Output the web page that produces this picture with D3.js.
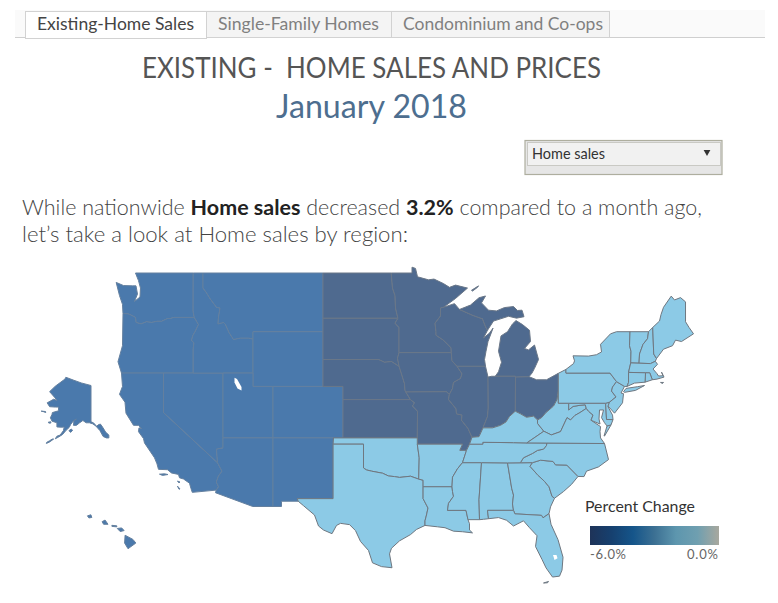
<!DOCTYPE html>
<html>
<head>
<meta charset="utf-8">
<title>Existing-Home Sales</title>
<script src="https://d3js.org/d3.v7.min.js"></script>
<style>
  html, body { margin: 0; padding: 0; background: #fff; }
  svg { display: block; }
  text { font-family: Lato, "Open Sans", sans-serif; }
</style>
</head>
<body>
<div id="chart"></div>
<script>
// tabs, text
const tabLabels = ['Existing-Home Sales', 'Single-Family Homes', 'Condominium and Co-ops'];
const legendTicks = ['-6.0%', '0.0%'];
const legendColors = ['#1e3358', '#16406f', '#15558a', '#3c7093', '#5d96ae', '#6f9fb0', '#a8a89e'];

// regions
const regionNames = ['West', 'Midwest', 'South', 'Northeast'];
const regionColors = ['#4a79ac', '#4f6a8f', '#8ccae6', '#8ccae6'];
const regionStrokes = ['#64809f', '#6a7788', '#6f7780', '#6f7780'];

const WA = [[-122.8,49],[-117.03,49],[-117.04,46.42],[-116.92,46],[-118.98,46],[-119.3,45.93],[-119.6,45.92],[-120.2,45.73],[-120.65,45.73],[-121.2,45.65],[-121.7,45.7],[-122.25,45.55],[-122.75,45.65],[-122.8,46],[-123.2,46.15],[-123.55,46.25],[-124.05,46.27],[-124.1,46.9],[-124.4,47.5],[-124.73,48.38],[-124,48.17],[-123.1,48.15],[-122.75,48.15],[-122.6,47.6],[-122.9,47.1],[-122.35,47.4],[-122.3,48],[-122.5,48.5]];
const OR = [[-124.05,46.27],[-123.55,46.25],[-123.2,46.15],[-122.8,46],[-122.75,45.65],[-122.25,45.55],[-121.7,45.7],[-121.2,45.65],[-120.65,45.73],[-120.2,45.73],[-119.6,45.92],[-119.3,45.93],[-118.98,46],[-116.92,46],[-116.5,45.5],[-116.85,45],[-117.05,44.75],[-117.2,44.4],[-116.95,44.2],[-117.03,43.8],[-117.03,42],[-124.2,42],[-124.55,42.84],[-124.1,44]];
const CA = [[-124.2,42],[-120,42],[-120,39],[-114.6,35],[-114.15,34.3],[-114.5,33.9],[-114.72,33.4],[-114.5,33],[-114.72,32.72],[-117.12,32.53],[-117.25,32.85],[-117.4,33.3],[-118,33.65],[-118.4,33.75],[-118.5,34.03],[-119.2,34.15],[-119.6,34.42],[-120.5,34.45],[-120.65,34.9],[-120.9,35.4],[-121.9,36.6],[-122,36.95],[-122.5,37.5],[-122.45,37.8],[-122.2,37.75],[-122.5,38],[-123,38],[-123.75,38.95],[-123.85,39.8],[-124.4,40.4],[-124.1,41]];
const CA2 = [[-120.4,34.05],[-119.9,34.08],[-119.55,34.02],[-120.1,33.95]];
const CA3 = [[-118.6,33.48],[-118.35,33.4],[-118.45,33.32]];
const CA4 = [[-118.6,33.05],[-118.35,32.82],[-118.45,32.8]];
const NV = [[-120,42],[-114.05,42],[-114.05,36.2],[-114.7,36.1],[-114.6,35],[-120,39]];
const ID = [[-117.03,49],[-116.05,49],[-116.05,48],[-115.72,47.7],[-115.3,47.25],[-114.7,46.7],[-114.35,46.65],[-114.5,46],[-114.55,45.55],[-114,45.65],[-113.8,45.5],[-113.45,44.95],[-113,44.45],[-112.3,44.55],[-111.5,44.55],[-111.05,44.48],[-111.05,42],[-117.03,42],[-117.03,43.8],[-116.95,44.2],[-117.2,44.4],[-117.05,44.75],[-116.85,45],[-116.5,45.5],[-116.92,46],[-117.04,46.42]];
const MT = [[-116.05,49],[-104.05,49],[-104.05,45],[-111.05,45],[-111.05,44.48],[-111.5,44.55],[-112.3,44.55],[-113,44.45],[-113.45,44.95],[-113.8,45.5],[-114,45.65],[-114.55,45.55],[-114.5,46],[-114.35,46.65],[-114.7,46.7],[-115.3,47.25],[-115.72,47.7],[-116.05,48]];
const WY = [[-111.05,45],[-104.05,45],[-104.05,41],[-111.05,41]];
const UT = [[-114.05,42],[-111.05,42],[-111.05,41],[-109.05,41],[-109.05,37],[-114.05,37]];
const CO = [[-109.05,41],[-102.05,41],[-102.05,37],[-109.05,37]];
const AZ = [[-114.05,37],[-109.05,37],[-109.05,31.33],[-111.07,31.33],[-114.8,32.5],[-114.72,32.72],[-114.5,33],[-114.72,33.4],[-114.5,33.9],[-114.15,34.3],[-114.6,35],[-114.7,36.1],[-114.05,36.2]];
const NM = [[-109.05,37],[-103,37],[-103.04,36.5],[-103.04,32],[-106.62,32],[-106.53,31.78],[-108.2,31.78],[-108.2,31.33],[-109.05,31.33]];
const AK = [[-141,69.65],[-141,60.3],[-139.5,60],[-137.5,58.9],[-136.5,59.4],[-135.2,59.6],[-133.8,58.6],[-132,57],[-130,56],[-130,55],[-131.5,55],[-133.5,55.5],[-135.5,57.5],[-136.5,58.1],[-138,59],[-140,59.7],[-142,60],[-144,60],[-146,60.7],[-148,60],[-150,59.2],[-151.8,59.2],[-151.5,60.7],[-150,61.1],[-152,60.5],[-153.5,59.5],[-154.5,58.5],[-156.5,57.5],[-158.5,56.2],[-161,55.3],[-163,54.7],[-162,55.6],[-160,56],[-158,57.5],[-157.5,58.7],[-159,58.6],[-162,58.7],[-162,60],[-165,60.5],[-166,61.5],[-165,62.5],[-164.8,63],[-161,63.5],[-161,64.5],[-163,64.5],[-166.5,64.6],[-168,65.6],[-164,66.5],[-162,66.2],[-163.5,67],[-166.5,68.3],[-163,69.5],[-157,71],[-156.5,71.35],[-152,70.8],[-147,70.2]];
const AK2 = [[-154.6,57.5],[-153.2,58],[-152.3,57.6],[-153.6,56.9]];
const AK3 = [[-167.3,60.2],[-165.7,60.3],[-165.8,59.9],[-167,59.9]];
const AK4 = [[-171.7,63.4],[-169,63.3],[-168.9,63],[-170.5,63.3]];
const AK5 = [[-164.9,54.6],[-164,54.6],[-166.6,53.5],[-168.5,53],[-168.3,53.4],[-166.5,54]];
const HI1 = [[-155.9,20.25],[-155.1,19.85],[-154.8,19.5],[-155.6,18.95],[-155.95,19.5]];
const HI2 = [[-156.7,20.9],[-156.25,20.95],[-156,20.7],[-156.4,20.6]];
const HI3 = [[-158.25,21.55],[-157.95,21.7],[-157.65,21.3],[-158.1,21.3]];
const HI4 = [[-159.75,22.1],[-159.4,22.2],[-159.3,21.95],[-159.6,21.9]];
const HI5 = [[-157.25,21.2],[-156.75,21.15],[-156.75,21.05],[-157.25,21.1]];

const ND = [[-104.05,49],[-97.23,49],[-97.1,48],[-96.85,47.5],[-96.8,46.65],[-96.56,45.94],[-104.05,45.94]];
const SD = [[-104.05,45.94],[-96.56,45.94],[-96.85,45.6],[-96.45,45.3],[-96.45,43.5],[-96.6,43.1],[-96.44,42.49],[-97.2,42.85],[-97.9,42.8],[-98.5,43],[-104.05,43]];
const NE = [[-104.05,43],[-98.5,43],[-97.9,42.8],[-97.2,42.85],[-96.44,42.49],[-96.1,41.7],[-95.9,41.2],[-95.85,40.7],[-95.77,40.58],[-95.31,40],[-102.05,40],[-102.05,41],[-104.05,41]];
const KS = [[-102.05,40],[-95.31,40],[-94.9,39.75],[-95.1,39.5],[-94.6,39.1],[-94.62,37],[-102.05,37]];
const MN = [[-97.23,49],[-95.15,49],[-95.15,49.38],[-94.8,49.3],[-94.6,48.75],[-93.5,48.55],[-92.95,48.6],[-92,48.3],[-91.4,48.05],[-90.8,48.2],[-89.6,48],[-90.8,47.3],[-92,46.7],[-92.3,46.65],[-92.3,46.1],[-92.85,45.6],[-92.75,45],[-92.75,44.75],[-92,44.4],[-91.25,43.85],[-91.22,43.5],[-96.45,43.5],[-96.45,45.3],[-96.85,45.6],[-96.56,45.94],[-96.8,46.65],[-96.85,47.5],[-97.1,48]];
const IA = [[-96.45,43.5],[-91.22,43.5],[-91.15,42.9],[-90.65,42.5],[-90.15,41.95],[-90.3,41.6],[-91,41.3],[-91.1,40.85],[-91.42,40.38],[-91.7,40.6],[-95.77,40.58],[-95.85,40.7],[-95.9,41.2],[-96.1,41.7],[-96.44,42.49],[-96.6,43.1]];
const MO = [[-95.77,40.58],[-91.7,40.6],[-91.42,40.38],[-91.5,40],[-90.75,39.3],[-90.7,38.9],[-90.15,38.8],[-90.2,38.4],[-89.55,37.75],[-89.15,37.05],[-89.4,36.5],[-89.7,36],[-90.37,36],[-90.1,36.5],[-94.62,36.5],[-94.62,37],[-94.6,39.1],[-95.1,39.5],[-94.9,39.75],[-95.31,40]];
const WI = [[-92.3,46.65],[-92,46.7],[-90.9,46.95],[-90.4,46.55],[-89.1,46.15],[-88.1,45.9],[-87.8,45.35],[-87.6,45.1],[-88,44.55],[-87.4,44.9],[-87.05,45.25],[-87.55,44.3],[-87.75,43.6],[-87.9,43],[-87.8,42.5],[-90.65,42.5],[-91.15,42.9],[-91.22,43.5],[-91.25,43.85],[-92,44.4],[-92.75,44.75],[-92.75,45],[-92.85,45.6],[-92.3,46.1]];
const MI1 = [[-90.4,46.55],[-89.3,46.85],[-88.45,47.35],[-87.8,47.47],[-88.2,47],[-87.5,46.5],[-86.7,46.45],[-85.9,46.68],[-85,46.75],[-84.6,46.48],[-84.15,46.5],[-83.95,46.05],[-84.7,45.95],[-85.5,46.08],[-86.3,45.9],[-87,45.75],[-87.6,45.1],[-87.8,45.35],[-88.1,45.9],[-89.1,46.15]];
const MI2 = [[-86.82,41.76],[-86.5,42.1],[-86.2,42.8],[-86.5,43.6],[-86.25,44.7],[-85.6,45],[-85.1,45.55],[-84.75,45.78],[-84.1,45.5],[-83.4,45.1],[-83.3,44.3],[-83.9,43.8],[-83.5,43.7],[-82.9,44.05],[-82.5,43],[-82.9,42.35],[-83.15,42],[-83.45,41.73],[-84.8,41.7],[-84.8,41.76]];
const MI3 = [[-89.2,47.85],[-88.5,48.15],[-88.6,48.05],[-89.1,47.8]];
const IL = [[-90.65,42.5],[-87.8,42.5],[-87.55,41.7],[-87.53,39.35],[-87.6,38.7],[-88.05,37.8],[-88.45,37.1],[-89.15,37.05],[-89.55,37.75],[-90.2,38.4],[-90.15,38.8],[-90.7,38.9],[-90.75,39.3],[-91.5,40],[-91.42,40.38],[-91.1,40.85],[-91,41.3],[-90.3,41.6],[-90.15,41.95]];
const IN = [[-87.55,41.7],[-87.2,41.76],[-86.82,41.76],[-84.8,41.76],[-84.82,39.1],[-84.9,39.05],[-85.4,38.7],[-85.75,38.27],[-86.3,38],[-87.1,37.8],[-88.05,37.8],[-87.6,38.7],[-87.53,39.35]];
const OH = [[-84.8,41.7],[-83.45,41.73],[-82.7,41.5],[-81.7,41.5],[-80.52,41.98],[-80.52,40.64],[-80.65,40],[-81,39.5],[-81.75,39],[-82.2,38.6],[-82.6,38.42],[-83,38.72],[-83.7,38.63],[-84.3,38.9],[-84.82,39.1]];

const OK = [[-103,37],[-94.62,37],[-94.62,36.5],[-94.43,35.4],[-94.48,33.64],[-95.3,33.88],[-96.4,33.78],[-96.9,33.85],[-97.5,33.9],[-98.1,34.13],[-99.2,34.3],[-99.7,34.4],[-100,34.56],[-100,36.5],[-103.04,36.5]];
const TX = [[-103.04,36.5],[-100,36.5],[-100,34.56],[-99.7,34.4],[-99.2,34.3],[-98.1,34.13],[-97.5,33.9],[-96.9,33.85],[-96.4,33.78],[-95.3,33.88],[-94.48,33.64],[-94.04,33.55],[-94.04,33],[-94.04,32],[-93.55,31.2],[-93.7,30.6],[-93.85,30.1],[-93.85,29.7],[-94.7,29.35],[-95.3,28.9],[-96.4,28.35],[-97.2,27.7],[-97.4,27.2],[-97.15,25.96],[-98.2,26.06],[-99.1,26.4],[-99.5,27.5],[-100.3,28.3],[-100.8,29.25],[-101.4,29.77],[-102.3,29.88],[-102.7,29.7],[-103.15,28.98],[-104,29.3],[-104.5,29.65],[-104.9,30.6],[-106,31.4],[-106.53,31.78],[-106.62,32],[-103.04,32]];
const AR = [[-94.62,36.5],[-90.1,36.5],[-90.37,36],[-89.7,36],[-90.1,35],[-90.6,34.5],[-91.1,33.8],[-91.15,33],[-94.04,33],[-94.04,33.55],[-94.48,33.64],[-94.43,35.4]];
const LA = [[-94.04,33],[-91.15,33],[-91.1,32.6],[-91,32.2],[-91.5,31.6],[-91.6,31],[-89.75,31],[-89.55,30.2],[-89.4,29.85],[-89.4,29.3],[-89.1,29.05],[-90.1,29.15],[-91,29.2],[-91.85,29.5],[-92.6,29.58],[-93.85,29.7],[-93.85,30.1],[-93.7,30.6],[-93.55,31.2],[-94.04,32]];
const MS = [[-90.1,35],[-88.2,35],[-88.45,31.9],[-88.4,30.2],[-89.55,30.2],[-89.75,31],[-91.6,31],[-91.5,31.6],[-91,32.2],[-91.1,32.6],[-91.15,33],[-91.1,33.8],[-90.6,34.5]];
const AL = [[-88.2,35],[-85.6,34.98],[-85.18,32.87],[-85,32.3],[-85.1,31.55],[-85,31],[-87.6,31],[-87.5,30.28],[-88,30.23],[-88.4,30.2],[-88.45,31.9]];
const GA = [[-85.6,34.98],[-84.32,34.99],[-83.1,35],[-83.35,34.7],[-82.6,34],[-81.9,33.45],[-81.45,33],[-81.15,32.2],[-80.9,32.03],[-81.3,31.3],[-81.45,30.72],[-82.05,30.36],[-82.2,30.57],[-84.86,30.7],[-85,31],[-85.1,31.55],[-85,32.3],[-85.18,32.87]];
const FL = [[-87.6,31],[-85,31],[-84.86,30.7],[-82.2,30.57],[-82.05,30.36],[-81.45,30.72],[-81.25,29.8],[-80.55,28.45],[-80.05,26.9],[-80.15,25.75],[-80.4,25.2],[-81.1,25.12],[-81.75,25.95],[-82.15,26.7],[-82.8,27.85],[-82.65,28.8],[-83.4,29.5],[-84,30.1],[-85,29.65],[-85.7,30.15],[-86.5,30.38],[-87.5,30.28]];
const FL2 = [[-82,24.58],[-81.5,24.72],[-81.6,24.6]];
const SC = [[-83.1,35],[-82.3,35.2],[-81.05,35.1],[-80.8,34.82],[-79.67,34.8],[-78.55,33.86],[-79.2,33.2],[-80,32.6],[-80.9,32.03],[-81.15,32.2],[-81.45,33],[-81.9,33.45],[-82.6,34],[-83.35,34.7]];
const NC = [[-84.32,34.99],[-84,35.4],[-83.1,35.75],[-82.6,36],[-82,36.1],[-81.7,36.4],[-81.68,36.59],[-75.9,36.55],[-75.5,35.25],[-76.5,34.65],[-77.7,34.3],[-77.95,33.85],[-78.55,33.86],[-79.67,34.8],[-80.8,34.82],[-81.05,35.1],[-82.3,35.2],[-83.1,35]];
const TN = [[-90.1,35],[-89.7,36],[-89.4,36.5],[-88.07,36.5],[-88.07,36.65],[-85,36.62],[-83.67,36.6],[-81.68,36.59],[-81.7,36.4],[-82,36.1],[-82.6,36],[-83.1,35.75],[-84,35.4],[-84.32,34.99],[-85.6,34.98],[-88.2,35]];
const KY = [[-89.4,36.5],[-89.15,37.05],[-88.45,37.1],[-88.05,37.8],[-87.1,37.8],[-86.3,38],[-85.75,38.27],[-85.4,38.7],[-84.9,39.05],[-84.82,39.1],[-84.3,38.9],[-83.7,38.63],[-83,38.72],[-82.6,38.42],[-82.6,38.15],[-81.97,37.53],[-83.67,36.6],[-85,36.62],[-88.07,36.65],[-88.07,36.5]];
const WV = [[-80.52,40.64],[-80.52,39.72],[-79.48,39.72],[-79.48,39.2],[-79.05,39.47],[-78.45,39.55],[-77.83,39.6],[-77.72,39.32],[-78.35,39],[-78.87,38.77],[-79.3,38.42],[-79.65,38.6],[-80.3,37.5],[-81.22,37.24],[-81.97,37.53],[-82.6,38.15],[-82.6,38.42],[-82.2,38.6],[-81.75,39],[-81,39.5],[-80.65,40]];
const VA = [[-83.67,36.6],[-81.97,37.53],[-81.22,37.24],[-80.3,37.5],[-79.65,38.6],[-79.3,38.42],[-78.87,38.77],[-78.35,39],[-77.72,39.32],[-77.5,39.1],[-77.05,38.8],[-77.25,38.4],[-76.3,37.9],[-76.35,37.5],[-76.3,37],[-75.9,36.55],[-81.68,36.59]];
const VA2 = [[-75.95,37.15],[-75.65,37.95],[-75.25,38.03],[-75.9,37.15]];
const MD = [[-79.48,39.72],[-75.79,39.72],[-75.7,38.46],[-75.05,38.45],[-75.25,38.03],[-75.65,37.95],[-75.9,38.2],[-76.2,38.6],[-76,39.2],[-76.4,39.2],[-76.45,38.5],[-76.35,38.1],[-77.25,38.4],[-77.05,38.8],[-77.5,39.1],[-77.72,39.32],[-77.83,39.6],[-78.45,39.55],[-79.05,39.47],[-79.48,39.2]];
const DE = [[-75.79,39.72],[-75.4,39.8],[-75.55,39.45],[-75.1,38.8],[-75.05,38.45],[-75.7,38.46]];

const PA = [[-80.52,41.98],[-79.76,42.27],[-79.76,42],[-75.35,42],[-74.7,41.36],[-75.1,40.95],[-75.2,40.65],[-74.75,40.2],[-75.4,39.8],[-75.79,39.72],[-80.52,39.72]];
const NJ = [[-74.7,41.36],[-73.9,41],[-74.25,40.5],[-74,40.45],[-74.1,39.75],[-74.9,38.95],[-75.55,39.5],[-75.4,39.8],[-74.75,40.2],[-75.2,40.65],[-75.1,40.95]];
const NY = [[-79.76,42.27],[-79,42.7],[-78.9,42.9],[-79.05,43.27],[-77.5,43.25],[-76.7,43.35],[-76.2,43.55],[-76.3,44.1],[-75.3,44.85],[-74.7,45],[-73.35,45],[-73.4,44],[-73.25,43.6],[-73.28,42.75],[-73.5,42.05],[-73.5,41.3],[-73.65,41],[-73.9,41],[-74.7,41.36],[-75.35,42],[-79.76,42]];
const NY2 = [[-74,40.6],[-73.75,40.85],[-72.6,40.98],[-71.9,41.07],[-72.8,40.7],[-73.9,40.55]];
const VT = [[-73.35,45],[-71.5,45],[-71.6,44.5],[-72.05,44.1],[-72.4,43.4],[-72.45,42.73],[-73.28,42.75],[-73.25,43.6],[-73.4,44]];
const NH = [[-71.5,45],[-71.08,45.3],[-70.98,43.4],[-70.7,43.07],[-70.82,42.87],[-71.3,42.7],[-72.45,42.73],[-72.4,43.4],[-72.05,44.1],[-71.6,44.5]];
const ME = [[-71.08,45.3],[-70.4,45.75],[-70.25,46.2],[-70,46.7],[-69.23,47.46],[-68.9,47.2],[-68.3,47.36],[-67.8,47.07],[-67.8,45.7],[-67.45,45.3],[-67,44.85],[-68.2,44.3],[-68.8,44.4],[-69.1,44],[-70,43.75],[-70.7,43.07],[-70.98,43.4]];
const MA = [[-73.5,42.05],[-73.28,42.75],[-72.45,42.73],[-71.3,42.7],[-70.82,42.87],[-70.6,42.65],[-71.05,42.3],[-70.65,41.95],[-70.5,41.78],[-70.05,41.8],[-70.2,42.07],[-69.95,41.7],[-70.65,41.55],[-71.12,41.5],[-71.38,42.02],[-71.8,42.02]];
const MA2 = [[-70.3,41.3],[-70,41.3],[-70.1,41.22]];
const RI = [[-71.8,42.02],[-71.38,42.02],[-71.12,41.5],[-71.85,41.32]];
const CT = [[-73.5,42.05],[-71.8,42.02],[-71.85,41.32],[-72.9,41.25],[-73.65,41],[-73.5,41.3]];

const lakes = [
  [[-112.9,41.65],[-112.65,41.55],[-112.2,40.95],[-112.2,40.7],[-112.6,40.85],[-112.9,41.3]],
  [[-81.05,27.1],[-80.7,27.1],[-80.6,26.8],[-80.9,26.65]]
];

const westStates = [WA, OR, CA, CA2, CA3, CA4, NV, ID, MT, WY, UT, CO, AZ, NM];
const alaskaShapes = [AK, AK2, AK3, AK4, AK5];
const hawaiiShapes = [HI1, HI2, HI3, HI4, HI5];
const midwestStates = [ND, SD, NE, KS, MN, IA, MO, WI, MI1, MI2, MI3, IL, IN, OH];
const southStates = [OK, TX, AR, LA, MS, AL, GA, FL, FL2, SC, NC, TN, KY, WV, VA, VA2, MD, DE];
const northeastStates = [PA, NJ, NY, NY2, VT, NH, ME, MA, MA2, RI, CT];

const width = 778, height = 603;
const svg = d3.select('#chart').append('svg').attr('width', width).attr('height', height);

// tab strip
svg.append('rect').attr('x', 15).attr('y', 10).attr('width', 750).attr('height', 27).attr('fill', '#fafafa');
svg.append('line').attr('x1', 15).attr('x2', 765).attr('y1', 37.5).attr('y2', 37.5).attr('stroke', '#cfcfcf');
const tabEdges = [25, 206, 391, 609];
tabLabels.forEach((label, i) => {
  svg.append('rect')
    .attr('x', tabEdges[i] + 0.5).attr('y', 11.5)
    .attr('width', tabEdges[i + 1] - tabEdges[i]).attr('height', i === 0 ? 27 : 26)
    .attr('fill', i === 0 ? '#fff' : '#f4f4f4')
    .attr('stroke', '#d2d2d2');
  svg.append('text')
    .attr('x', tabEdges[i] + 12).attr('y', 30)
    .attr('font-size', 17)
    .attr('textLength', [157, 161, 200][i])
    .attr('lengthAdjust', 'spacingAndGlyphs')
    .attr('fill', i === 0 ? '#444' : '#808080')
    .text(label);
});

// title
svg.append('text').attr('x', 142).attr('y', 78)
  .attr('font-size', 29).attr('fill', '#555')
  .attr('textLength', 459).attr('lengthAdjust', 'spacingAndGlyphs')
  .style('white-space', 'pre')
  .text('EXISTING -  HOME SALES AND PRICES');
svg.append('text').attr('x', 276).attr('y', 118)
  .attr('font-size', 32).attr('fill', '#4d6e8f')
  .attr('textLength', 191).attr('lengthAdjust', 'spacingAndGlyphs')
  .text('January 2018');

// parameter dropdown
svg.append('rect').attr('x', 525).attr('y', 140.5).attr('width', 197).attr('height', 34)
  .attr('fill', '#e6e6e6').attr('stroke', '#aeae9f').attr('stroke-width', 1.2);
svg.append('rect').attr('x', 527.5).attr('y', 142.5).attr('width', 193).attr('height', 23)
  .attr('fill', '#f1f1f1').attr('stroke', '#c9c9c4');
svg.append('text').attr('x', 532).attr('y', 159).attr('font-size', 15).attr('fill', '#333')
  .attr('textLength', 73).attr('lengthAdjust', 'spacingAndGlyphs').text('Home sales');
svg.append('path').attr('d', d3.symbol(d3.symbolTriangle, 20)())
  .attr('transform', 'translate(707,152) rotate(180)').attr('fill', '#333');

// sentence above the map
const sentence = svg.append('text').attr('x', 22).attr('y', 215).attr('font-size', 21).attr('font-weight', 300).attr('fill', '#444')
  .attr('textLength', 680).attr('lengthAdjust', 'spacingAndGlyphs');
sentence.append('tspan').text('While nationwide ');
sentence.append('tspan').attr('font-weight', 700).attr('fill', '#222').text('Home sales');
sentence.append('tspan').text(' decreased ');
sentence.append('tspan').attr('font-weight', 700).attr('fill', '#222').text('3.2%');
sentence.append('tspan').text(' compared to a month ago,');
svg.append('text').attr('x', 22).attr('y', 242).attr('font-size', 21).attr('font-weight', 300).attr('fill', '#444')
  .attr('textLength', 386).attr('lengthAdjust', 'spacingAndGlyphs')
  .text('let\u2019s take a look at Home sales by region:');

// map: mercator for the lower 48, own scale for Alaska, Hawaii at map scale
const mainProj = d3.geoMercator().scale(573).center([-104.05, 49]).translate([323, 273]);
const alaskaProj = d3.geoMercator().scale(93).center([-141, 71.4]).translate([91, 377]);
const hawaiiProj = d3.geoMercator().scale(560).center([-155.5, 19.6]).translate([129, 542]);

const regionColor = d3.scaleOrdinal().domain(regionNames).range(regionColors);
const regionStroke = d3.scaleOrdinal().domain(regionNames).range(regionStrokes);

const drawShapes = (shapes, region, proj) => {
  const line = d3.line().x(d => proj(d)[0]).y(d => proj(d)[1]);
  svg.append('g').selectAll('path')
    .data(shapes)
    .enter()
    .append('path')
    .attr('d', d => line(d) + 'Z')
    .attr('fill', regionColor(region))
    .attr('stroke', regionStroke(region))
    .attr('stroke-width', 1)
    .attr('stroke-linejoin', 'round');
};
drawShapes(westStates, 'West', mainProj);
drawShapes(alaskaShapes, 'West', alaskaProj);
drawShapes(hawaiiShapes, 'West', hawaiiProj);
drawShapes(midwestStates, 'Midwest', mainProj);
drawShapes(southStates, 'South', mainProj);
drawShapes(northeastStates, 'Northeast', mainProj);

// lakes sit on top of the state fill
const lakeLine = d3.line().x(d => mainProj(d)[0]).y(d => mainProj(d)[1]);
svg.append('g').selectAll('path').data(lakes).enter().append('path')
  .attr('d', d => lakeLine(d) + 'Z').attr('fill', '#fff');

// legend
svg.append('text').attr('x', 585).attr('y', 512).attr('font-size', 15).attr('fill', '#333')
  .attr('textLength', 110).attr('lengthAdjust', 'spacingAndGlyphs').text('Percent Change');
const grad = svg.append('defs').append('linearGradient').attr('id', 'legend-grad');
grad.selectAll('stop').data(legendColors).enter().append('stop')
  .attr('offset', (d, i) => i / (legendColors.length - 1))
  .attr('stop-color', d => d);
svg.append('rect').attr('x', 590).attr('y', 526).attr('width', 129).attr('height', 19)
  .attr('fill', 'url(#legend-grad)');
const legendX = d3.scalePoint().domain(legendTicks).range([590, 718]);
legendTicks.forEach((t, i) => {
  svg.append('text').attr('x', legendX(t)).attr('y', 559).attr('font-size', 13).attr('fill', '#666')
    .attr('text-anchor', i === 0 ? 'start' : 'end')
    .attr('textLength', i === 0 ? 36 : 31).attr('lengthAdjust', 'spacing')
    .text(t);
});
</script>
</body>
</html>
